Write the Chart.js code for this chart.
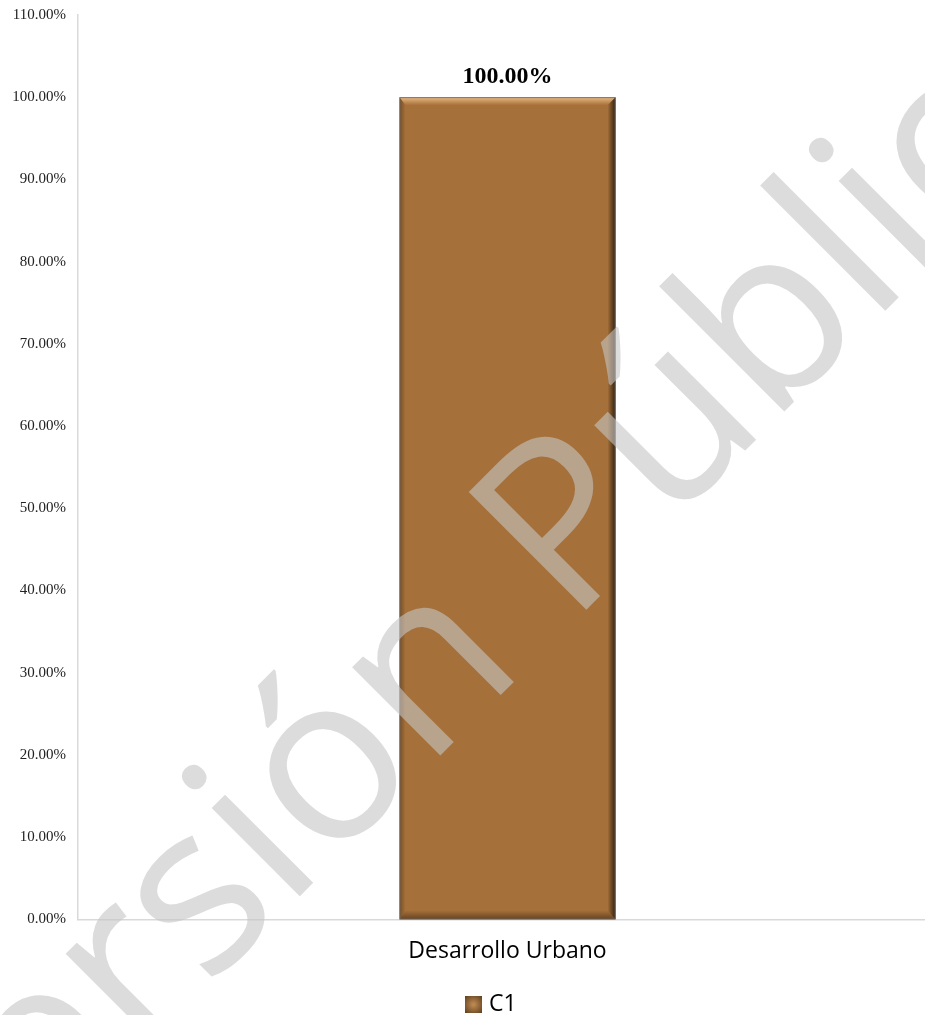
<!DOCTYPE html>
<html>
<head>
<meta charset="utf-8">
<script src="https://cdn.jsdelivr.net/npm/chart.js@4.4.1/dist/chart.umd.min.js"></script>
<style>
  html, body { margin: 0; padding: 0; background: #fff; overflow: hidden; }
  #wrap { width: 937px; height: 1015px; position: relative; }
</style>
</head>
<body>
<div id="wrap"><canvas id="chart"></canvas></div>
<script>
const categories = ['Desarrollo Urbano'];
const seriesName = 'C1';
const values = [100];
const yTicks = [0, 10, 20, 30, 40, 50, 60, 70, 80, 90, 100, 110];

const barColor = '#a5703a';
const axisColor = '#d9d9d9';

// bevel look of the Excel bar, drawn on top of the library's own bar element
const bevelPlugin = {
    id: 'bevel',
    afterDatasetsDraw(chart) {
        const ctx = chart.ctx;
        chart.getDatasetMeta(0).data.forEach(el => {
            const p = el.getProps(['x', 'y', 'base', 'width'], true);
            const x0 = p.x - p.width / 2, x1 = p.x + p.width / 2;
            const y0 = p.y, y1 = p.base;
            const t = 8, l = 6, r = 8, b = 9;
            ctx.save();

            let g = ctx.createLinearGradient(0, y0, 0, y0 + t);
            g.addColorStop(0, 'rgba(150,110,70,0.9)');
            g.addColorStop(0.15, 'rgba(235,185,130,0.85)');
            g.addColorStop(1, 'rgba(235,185,130,0)');
            ctx.fillStyle = g;
            ctx.beginPath();
            ctx.moveTo(x0, y0); ctx.lineTo(x1, y0); ctx.lineTo(x1 - r, y0 + t); ctx.lineTo(x0 + l, y0 + t);
            ctx.closePath(); ctx.fill();

            g = ctx.createLinearGradient(x0, 0, x0 + l, 0);
            g.addColorStop(0, 'rgba(60,35,10,0.45)');
            g.addColorStop(1, 'rgba(60,35,10,0)');
            ctx.fillStyle = g;
            ctx.beginPath();
            ctx.moveTo(x0, y0); ctx.lineTo(x0 + l, y0 + t); ctx.lineTo(x0 + l, y1 - b); ctx.lineTo(x0, y1);
            ctx.closePath(); ctx.fill();

            g = ctx.createLinearGradient(0, y1 - b, 0, y1);
            g.addColorStop(0, 'rgba(50,30,10,0)');
            g.addColorStop(1, 'rgba(50,30,10,0.55)');
            ctx.fillStyle = g;
            ctx.beginPath();
            ctx.moveTo(x0, y1); ctx.lineTo(x0 + l, y1 - b); ctx.lineTo(x1 - r, y1 - b); ctx.lineTo(x1, y1);
            ctx.closePath(); ctx.fill();

            g = ctx.createLinearGradient(x1 - r, 0, x1, 0);
            g.addColorStop(0, 'rgba(30,18,5,0)');
            g.addColorStop(1, 'rgba(30,18,5,0.85)');
            ctx.fillStyle = g;
            ctx.beginPath();
            ctx.moveTo(x1, y0); ctx.lineTo(x1, y1); ctx.lineTo(x1 - r, y1 - b); ctx.lineTo(x1 - r, y0 + t);
            ctx.closePath(); ctx.fill();

            ctx.strokeStyle = 'rgba(110,110,110,0.6)';
            ctx.lineWidth = 1;
            ctx.strokeRect(x0 + 0.5, y0 + 0.5, p.width - 1, y1 - y0 - 1);
            ctx.restore();
        });
    }
};

const labelPlugin = {
    id: 'valueLabels',
    afterDatasetsDraw(chart) {
        const ctx = chart.ctx;
        const ds = chart.data.datasets[0];
        chart.getDatasetMeta(0).data.forEach((el, i) => {
            ctx.save();
            ctx.font = 'bold 24px "Liberation Serif", serif';
            ctx.fillStyle = '#000';
            ctx.textAlign = 'center';
            ctx.textBaseline = 'alphabetic';
            ctx.fillText(ds.data[i].toFixed(2) + '%', el.x, el.y - 14);
            ctx.restore();
        });
    }
};

const legendPlugin = {
    id: 'customLegend',
    afterDraw(chart) {
        const ctx = chart.ctx;
        const bx = 465, by = 996, s = 17;
        ctx.save();
        ctx.fillStyle = barColor;
        ctx.fillRect(bx, by, s, s);
        let g = ctx.createRadialGradient(bx + s / 2, by + s / 2, 1, bx + s / 2, by + s / 2, s * 0.7);
        g.addColorStop(0, 'rgba(200,150,95,0.6)');
        g.addColorStop(1, 'rgba(50,30,10,0.6)');
        ctx.fillStyle = g;
        ctx.fillRect(bx, by, s, s);
        ctx.font = '23px "Open Sans", sans-serif';
        ctx.fillStyle = '#000';
        ctx.textBaseline = 'middle';
        ctx.fillText(chart.data.datasets[0].label, bx + s + 7, by + s / 2);
        ctx.restore();
    }
};

const watermarkPlugin = {
    id: 'watermark',
    afterDraw(chart) {
        const ctx = chart.ctx;
        ctx.save();
        ctx.translate(490, 612);
        ctx.rotate(-Math.PI / 4);
        ctx.font = '233px "Open Sans", sans-serif';
        ctx.fillStyle = 'rgba(197,197,197,0.6)';
        ctx.textAlign = 'center';
        ctx.textBaseline = 'middle';
        ctx.fillText('Versión Pública', 0, 0);
        ctx.restore();
    }
};

new Chart(document.getElementById('chart'), {
    type: 'bar',
    data: {
        labels: categories,
        datasets: [{
            label: seriesName,
            data: values,
            backgroundColor: barColor,
            borderWidth: 0,
            categoryPercentage: 1,
            barPercentage: 0.2515
        }]
    },
    options: {
        responsive: true,
        maintainAspectRatio: false,
        animation: false,
        layout: { padding: { top: 0, bottom: 32, left: 0, right: 0 } },
        plugins: {
            legend: { display: false },
            tooltip: { enabled: false }
        },
        scales: {
            x: {
                grid: { display: false, drawTicks: false },
                border: { display: true, color: axisColor, width: 1.5 },
                ticks: {
                    padding: 18,
                    color: '#000',
                    font: { family: '"Open Sans", sans-serif', size: 23 }
                }
            },
            y: {
                min: yTicks[0],
                max: yTicks[yTicks.length - 1],
                afterFit: scale => {
                    scale.width = 78;
                    scale.paddingTop = 15;
                    scale.paddingBottom = 0;
                },
                afterBuildTicks: scale => { scale.ticks = yTicks.map(v => ({ value: v })); },
                grid: { display: false, drawTicks: false },
                border: { display: true, color: axisColor, width: 1.5 },
                ticks: {
                    padding: 12,
                    color: '#222',
                    font: { family: '"Liberation Serif", serif', size: 15 },
                    callback: v => v.toFixed(2) + '%'
                }
            }
        }
    },
    plugins: [bevelPlugin, labelPlugin, legendPlugin, watermarkPlugin]
});
</script>
</body>
</html>
